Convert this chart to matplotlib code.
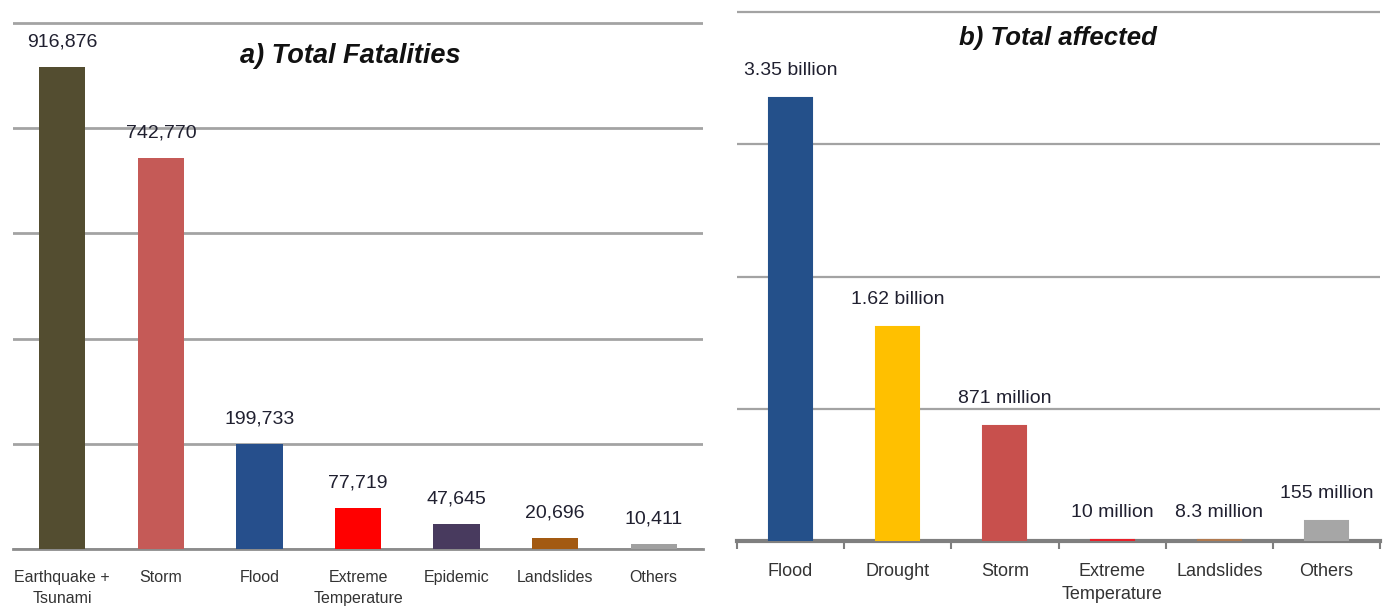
import matplotlib
matplotlib.use("Agg")
import matplotlib.pyplot as plt

plt.rcParams["font.family"] = ["Liberation Sans", "DejaVu Sans"]

# ---- data -----------------------------------------------------------------
fatal_categories = ["Earthquake +\nTsunami", "Storm", "Flood", "Extreme\nTemperature",
                    "Epidemic", "Landslides", "Others"]
fatal_values = [916876, 742770, 199733, 77719, 47645, 20696, 10411]
fatal_labels = ["916,876", "742,770", "199,733", "77,719", "47,645", "20,696", "10,411"]
fatal_colors = ["#534D30", "#C55A57", "#264F8C", "#FF0000", "#483A5E", "#A35A12", "#A0A0A0"]

affected_categories = ["Flood", "Drought", "Storm", "Extreme\nTemperature", "Landslides", "Others"]
affected_values = [3.35e9, 1.62e9, 871e6, 10e6, 8.3e6, 155e6]
affected_labels = ["3.35 billion", "1.62 billion", "871 million", "10 million", "8.3 million",
                   "155 million"]
affected_colors = ["#24508A", "#FFC000", "#C8504D", "#E8202A", "#B07A50", "#A6A6A6"]

fatal_ticks = [0, 200000, 400000, 600000, 800000, 1000000]
affected_ticks = [0, 1e9, 2e9, 3e9, 4e9]

# ---- figure ---------------------------------------------------------------
W, H = 1386, 609
fig = plt.figure(figsize=(W / 100, H / 100), dpi=100)


def axes_px(x0, x1, y_base, y_top, pad=1.03):
    """Create axes from pixel coordinates (y measured from top)."""
    span = (y_base - y_top) * pad
    return fig.add_axes([x0 / W, (H - y_base) / H, (x1 - x0) / W, span / H])


# ---- a) Total Fatalities --------------------------------------------------
ax1 = axes_px(13, 703, 549, 23)
x1 = range(len(fatal_values))
ax1.bar(x1, fatal_values, width=0.47, color=fatal_colors, zorder=3)
ax1.set_xlim(-0.5, len(fatal_values) - 0.5)
ax1.set_ylim(0, fatal_ticks[-1] * 1.03)
ax1.set_yticks(fatal_ticks)
ax1.yaxis.grid(True, color="#A3A3A3", linewidth=2.0, zorder=0)
ax1.set_axisbelow(True)
ax1.tick_params(axis="y", left=False, labelleft=False)
ax1.set_xticks(list(x1))
ax1.set_xticklabels(fatal_categories, fontsize=11.5, color="#333333", linespacing=1.5)
ax1.tick_params(axis="x", length=0, pad=15)
for side in ("top", "right", "left"):
    ax1.spines[side].set_visible(False)
ax1.spines["bottom"].set_color("#8C8C8C")
ax1.spines["bottom"].set_linewidth(2.0)
for xi, v, lab in zip(x1, fatal_values, fatal_labels):
    ax1.annotate(lab, (xi, v), xytext=(0, 25), textcoords="offset pixels",
                 ha="center", va="center", fontsize=14, color="#202030")

fig.text(350 / W, 1 - 56 / H, "a) Total Fatalities", ha="center", va="center",
         fontsize=19.5, fontweight="bold", fontstyle="italic", color="#111111")

# ---- b) Total affected ----------------------------------------------------
ax2 = axes_px(737, 1380, 541, 12)
x2 = range(len(affected_values))
ax2.bar(x2, affected_values, width=0.40, color=affected_colors,
        edgecolor=affected_colors, linewidth=1.5, zorder=3)
ax2.set_xlim(-0.5, len(affected_values) - 0.5)
ax2.set_ylim(0, affected_ticks[-1] * 1.03)
ax2.set_yticks(affected_ticks)
ax2.yaxis.grid(True, color="#A3A3A3", linewidth=1.6, zorder=0)
ax2.set_axisbelow(True)
ax2.tick_params(axis="y", left=False, labelleft=False)
ax2.set_xticks(list(x2))
ax2.set_xticklabels(affected_categories, fontsize=13, color="#333333", linespacing=1.45)
ax2.set_xticks([i - 0.5 for i in range(len(affected_values) + 1)], minor=True)
ax2.tick_params(axis="x", which="major", length=0, pad=16)
ax2.tick_params(axis="x", which="minor", length=6, width=1.5, color="#7F7F7F")
for side in ("top", "right", "left"):
    ax2.spines[side].set_visible(False)
ax2.spines["bottom"].set_color("#7F7F7F")
ax2.spines["bottom"].set_linewidth(3.0)
ax2.spines["bottom"].set_zorder(2)
for xi, v, lab in zip(x2, affected_values, affected_labels):
    ax2.annotate(lab, (xi, v), xytext=(0, 27), textcoords="offset pixels",
                 ha="center", va="center", fontsize=14, color="#202030")

fig.text(1058 / W, 1 - 38 / H, "b) Total affected", ha="center", va="center",
         fontsize=18.5, fontweight="bold", fontstyle="italic", color="#111111")

fig.savefig("out.png", dpi=100)
